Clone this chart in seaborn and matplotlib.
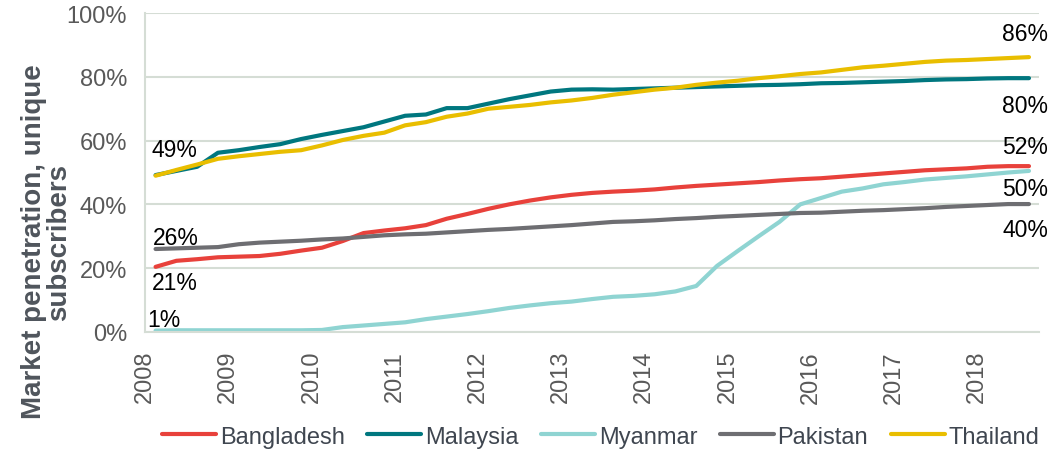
import numpy as np
import pandas as pd
import seaborn as sns
import matplotlib.pyplot as plt

years = [str(y) for y in range(2008, 2019)]
countries = ["Bangladesh", "Malaysia", "Myanmar", "Pakistan", "Thailand"]

# quarterly penetration (%), 2008 Q1 .. 2018 Q3
bangladesh = [20.4, 22.3, 22.8, 23.4, 23.6, 23.8, 24.5, 25.5, 26.4, 28.5, 31.0, 31.8, 32.5, 33.5, 35.5,
              37.0, 38.6, 40.0, 41.2, 42.2, 43.0, 43.6, 44.0, 44.3, 44.7, 45.3, 45.8, 46.2, 46.6, 47.0,
              47.5, 47.9, 48.2, 48.7, 49.2, 49.7, 50.2, 50.7, 51.0, 51.3, 51.8, 52.0, 52.0]
malaysia = [49.2, 50.5, 51.8, 56.2, 57.0, 58.0, 58.9, 60.5, 61.8, 63.0, 64.2, 66.0, 67.8, 68.2, 70.2,
            70.2, 71.6, 73.0, 74.2, 75.4, 76.0, 76.1, 76.0, 76.2, 76.4, 76.6, 76.8, 77.0, 77.2, 77.4,
            77.5, 77.7, 78.0, 78.1, 78.3, 78.5, 78.7, 79.0, 79.2, 79.3, 79.5, 79.6, 79.6]
myanmar = [0.4, 0.5, 0.5, 0.5, 0.5, 0.5, 0.5, 0.5, 0.6, 1.5, 2.0, 2.5, 3.0, 4.0, 4.8,
           5.6, 6.5, 7.5, 8.3, 9.0, 9.5, 10.3, 11.0, 11.3, 11.8, 12.7, 14.4, 20.7, 25.4, 30.0,
           34.5, 40.0, 42.0, 44.0, 45.0, 46.3, 47.0, 47.8, 48.3, 48.8, 49.4, 50.0, 50.5]
pakistan = [26.0, 26.2, 26.4, 26.6, 27.5, 28.0, 28.3, 28.6, 29.0, 29.3, 29.8, 30.3, 30.6, 30.8, 31.2,
            31.6, 32.0, 32.3, 32.7, 33.1, 33.5, 34.0, 34.5, 34.7, 35.0, 35.4, 35.7, 36.1, 36.4, 36.7,
            37.0, 37.3, 37.4, 37.7, 38.0, 38.2, 38.5, 38.8, 39.2, 39.5, 39.8, 40.1, 40.1]
thailand = [49.0, 50.8, 52.5, 54.3, 55.1, 55.8, 56.5, 57.0, 58.5, 60.2, 61.5, 62.5, 64.8, 65.8, 67.5,
            68.5, 70.0, 70.6, 71.2, 72.0, 72.6, 73.4, 74.4, 75.2, 76.0, 76.6, 77.5, 78.2, 78.8, 79.6,
            80.2, 80.9, 81.4, 82.2, 83.0, 83.5, 84.1, 84.7, 85.1, 85.3, 85.6, 85.9, 86.2]

start_labels = ["21%", "49%", "1%", "26%", "49%"]
end_labels = ["52%", "80%", "50%", "40%", "86%"]

colors = {"Bangladesh": "#E8413B", "Malaysia": "#00777F", "Myanmar": "#8FD4D2",
          "Pakistan": "#6E6E72", "Thailand": "#E9BE00"}

series = [bangladesh, malaysia, myanmar, pakistan, thailand]
n = len(bangladesh)
rows = []
for c, vals in zip(countries, series):
    for i, v in enumerate(vals):
        rows.append({"q": i + 0.5, "country": c, "value": v})
df = pd.DataFrame(rows)

sns.set_style("white")
plt.rcParams['font.family'] = ['Liberation Sans', 'DejaVu Sans']

fig = plt.figure(figsize=(10.52, 4.56), dpi=100)
ax = fig.add_axes([0.138, 0.27, 0.85, 0.699])

grid_c = "#D5DDD5"
sns.lineplot(data=df, x="q", y="value", hue="country", palette=colors, linewidth=3,
             ax=ax, legend=True)

ax.set_xlim(0, n)
ax.set_ylim(0, 100)
ax.set_yticks(range(0, 101, 20))
ax.set_yticklabels([f"{v}%" for v in range(0, 101, 20)])
ax.set_xticks(range(0, 41, 4))
ax.set_xticklabels(years, rotation=90)
ax.yaxis.grid(True, color=grid_c, linewidth=1.5)
ax.set_axisbelow(True)
for s in ["top", "right"]:
    ax.spines[s].set_visible(False)
for s in ["left", "bottom"]:
    ax.spines[s].set_color(grid_c)
    ax.spines[s].set_linewidth(1.5)
ax.tick_params(axis="both", colors=grid_c, length=8, width=1.5, labelcolor="#595959",
               labelsize=17, pad=5)
ax.set_xlabel("")
ax.set_ylabel("Market penetration, unique\nsubscribers", fontsize=20, fontweight="bold",
              color="#4F555C", linespacing=0.95)
ax.yaxis.set_label_coords(-0.082, 0.285)

# start / end labels
start_off = {"Bangladesh": (-3, -11), "Malaysia": (-3, 14), "Myanmar": (-6, 8),
             "Pakistan": (-2, 8), "Thailand": (-3, 19)}
end_off = {"Bangladesh": (14, 14), "Malaysia": (14, -20), "Myanmar": (14, -13),
           "Pakistan": (14, -18), "Thailand": (14, 17)}
for c, vals, sl, el in zip(countries, series, start_labels, end_labels):
    if c != "Malaysia":
        ax.annotate(sl, (0.5, vals[0]), xytext=start_off[c], textcoords="offset points",
                    fontsize=16.5, ha="left", va="center", color="black")
    ax.annotate(el, (n - 0.5, vals[-1]), xytext=end_off[c], textcoords="offset points",
                fontsize=16.5, ha="right", va="center", color="black", annotation_clip=False)

handles, labels = ax.get_legend_handles_labels()
ax.legend_.remove()
fig.legend(handles, labels, loc="center", bbox_to_anchor=(0.571, 0.04), ncol=5, frameon=False,
           fontsize=17, handlelength=2.3, handletextpad=0.15, columnspacing=0.95,
           labelcolor="#3F4650")

fig.savefig("out.png", dpi=100)
